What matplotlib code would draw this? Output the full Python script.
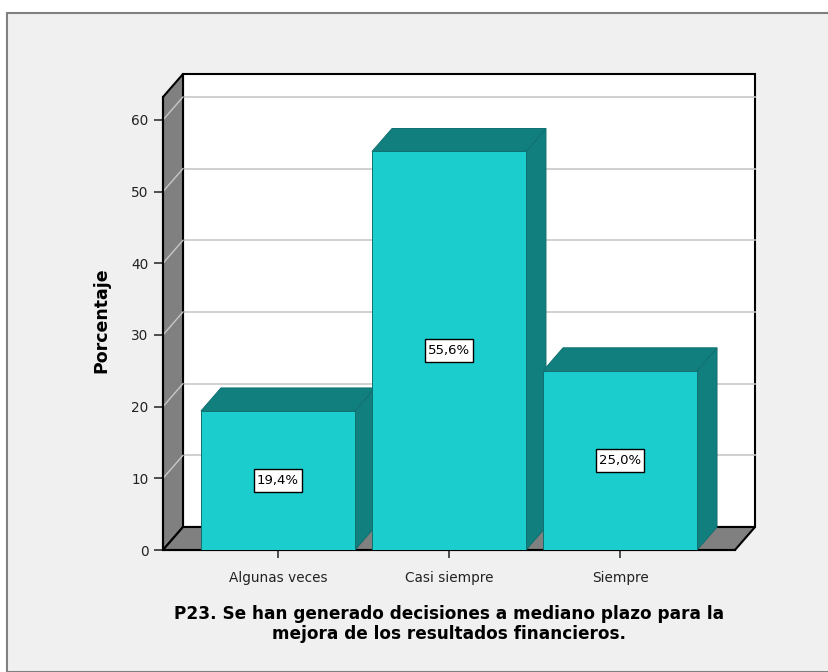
import matplotlib
matplotlib.use("Agg")
import matplotlib.pyplot as plt
from matplotlib.patches import Polygon, Rectangle
from matplotlib.path import Path

plt.rcParams['font.family'] = ['DejaVu Sans']

categories = ["Algunas veces", "Casi siempre", "Siempre"]
percentages = [19.4, 55.6, 25.0]
value_labels = ["19,4%", "55,6%", "25,0%"]
y_ticks = [0, 10, 20, 30, 40, 50, 60]
y_label = "Porcentaje"
title = "P23. Se han generado decisiones a mediano plazo para la\nmejora de los resultados financieros."

W, H = 829, 672
fig = plt.figure(figsize=(W / 100, H / 100), dpi=100, facecolor="white")

# panel background with frame
fig.patches.append(Rectangle((7 / W, 0), 1, 1 - 13 / H, transform=fig.transFigure,
                             facecolor="#f0f0f0", edgecolor="#808080", linewidth=1.5,
                             zorder=-10))

# front plane of the plot box (pixels)
left_px, right_px, bottom_px, top_px = 163, 735, 550, 97
ax = fig.add_axes([left_px / W, 1 - bottom_px / H,
                   (right_px - left_px) / W, (bottom_px - top_px) / H])
ax.set_facecolor("none")

x = list(range(len(categories)))
xmin, xmax = -0.672, len(categories) - 1 + 0.672
ymin, ymax = 0, 63.2
ax.set_xlim(xmin, xmax)
ax.set_ylim(ymin, ymax)

# depth offsets (converted from pixels to data units)
px_x = (right_px - left_px) / (xmax - xmin)
px_y = (bottom_px - top_px) / (ymax - ymin)
dx = 20 / px_x
dy = 23 / px_y

wall_gray = "#808080"
grid_gray = "#c8c8c8"
front_col = "#1ccdcd"
dark_col = "#127f7f"
edge_bar = "#0f7070"


def poly(pts, fc, ec, lw=1.0, z=1):
    ax.add_patch(Polygon(pts, closed=True, facecolor=fc, edgecolor=ec,
                         linewidth=lw, zorder=z, clip_on=False))


# back wall
poly([(xmin + dx, dy), (xmax + dx, dy), (xmax + dx, ymax + dy), (xmin + dx, ymax + dy)],
     "white", "black", 1.5, z=1)
# left wall
poly([(xmin, 0), (xmin + dx, dy), (xmin + dx, ymax + dy), (xmin, ymax)],
     wall_gray, "black", 1.5, z=2)
# floor
poly([(xmin, 0), (xmax, 0), (xmax + dx, dy), (xmin + dx, dy)],
     wall_gray, "black", 1.5, z=2)

# gridlines on back and left walls
for t in y_ticks[1:]:
    ax.plot([xmin + dx, xmax + dx], [t + dy, t + dy], color=grid_gray, lw=1.2,
            zorder=1.5, clip_on=False)
    ax.plot([xmin, xmin + dx], [t, t + dy], color=grid_gray, lw=1.0,
            zorder=2.5, clip_on=False)

# 3D bars
width = 0.9
bars = ax.bar(x, percentages, width=width, color=front_col, edgecolor=edge_bar,
              linewidth=0.7, zorder=4)
for b, v in zip(bars, percentages):
    x0 = b.get_x()
    x1 = x0 + b.get_width()
    poly([(x1, 0), (x1 + dx, dy), (x1 + dx, v + dy), (x1, v)], dark_col, edge_bar, 0.7, z=3.5)
    poly([(x0, v), (x0 + dx, v + dy), (x1 + dx, v + dy), (x1, v)], dark_col, edge_bar, 0.7, z=3.5)


def label_box(x0, y0, width, height, mutation_size):
    # rectangle with more vertical than horizontal padding
    px = 0.2 * mutation_size
    py = 0.38 * mutation_size
    a, b = x0 - px, y0 - py
    c, d = x0 + width + px, y0 + height + py
    return Path([(a, b), (c, b), (c, d), (a, d), (a, b)], closed=True)


# value labels
for xi, v, lab in zip(x, percentages, value_labels):
    ax.text(xi, v / 2, lab, ha="center", va="center", fontsize=9.5, color="black", zorder=6,
            bbox=dict(boxstyle=label_box, facecolor="white", edgecolor="black",
                      linewidth=1.0))

# axes and ticks
for s in ["top", "right"]:
    ax.spines[s].set_visible(False)
ax.spines["left"].set_linewidth(1.5)
ax.spines["bottom"].set_linewidth(1.5)
ax.spines["left"].set_zorder(3)
ax.spines["bottom"].set_zorder(3)
ax.set_yticks(y_ticks)
ax.set_yticklabels([str(t) for t in y_ticks])
ax.set_xticks(x)
ax.set_xticklabels(categories)
ax.tick_params(axis="both", direction="out", width=1.2, color="#333333",
               labelsize=9.8, labelcolor="#222222")
ax.tick_params(axis="x", length=6, pad=9)
ax.tick_params(axis="y", length=6.5, pad=4)

fig.text(101 / W, 1 - 320 / H, y_label, rotation=90, ha="center", va="center",
         fontsize=12.5, fontweight="bold")
fig.text(449 / W, 1 - 624 / H, title, ha="center", va="center", fontsize=12.2,
         fontweight="bold", linespacing=1.1)

fig.savefig("out.png", dpi=100, facecolor=fig.get_facecolor())
